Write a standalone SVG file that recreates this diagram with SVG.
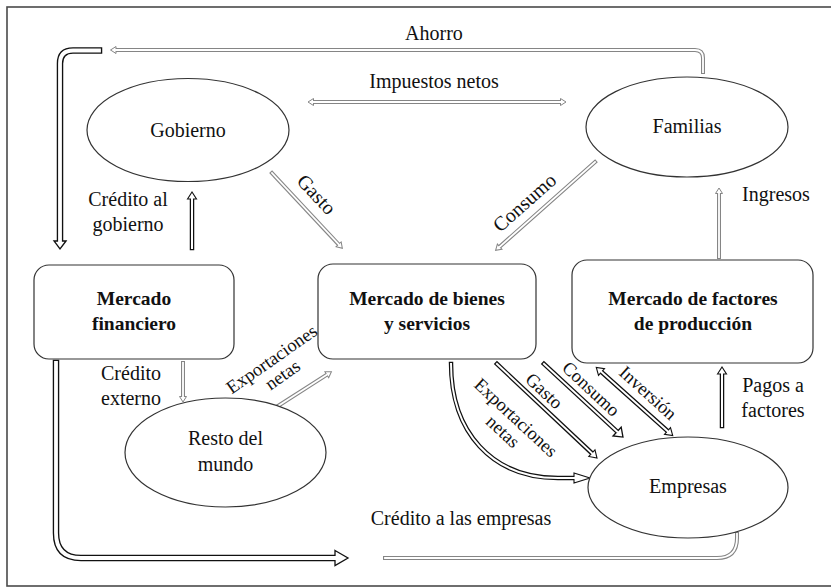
<svg xmlns="http://www.w3.org/2000/svg" width="831" height="588" viewBox="0 0 831 588" font-family="'Liberation Serif', 'DejaVu Serif', serif">
<style>
text{font-family:'Liberation Serif','DejaVu Serif',serif;fill:#111;}
.t{font-size:20px;text-anchor:middle;}
.s{font-size:18.5px;text-anchor:middle;}
.b{font-size:19.5px;font-weight:bold;text-anchor:middle;}
.node{fill:#fff;stroke:#333;stroke-width:1.2;}
.gO{fill:none;stroke:#858585;stroke-width:4;stroke-linecap:square;}
.gI{fill:none;stroke:#fff;stroke-width:1.8;stroke-linecap:square;}
.bO{fill:none;stroke:#111;stroke-width:6.5;stroke-linecap:square;}
.bI{fill:none;stroke:#fff;stroke-width:3.8;stroke-linecap:square;}
.kO{fill:none;stroke:#111;stroke-width:4.5;stroke-linecap:square;}
.kI{fill:none;stroke:#fff;stroke-width:2;stroke-linecap:square;}
</style>
<defs>
<marker id="mg" markerUnits="userSpaceOnUse" orient="auto-start-reverse" markerWidth="10" markerHeight="10" refX="0" refY="0" overflow="visible"><path d="M0,-3.5 L5.5,0 L0,3.5 Z" fill="#fff" stroke="#858585" stroke-width="1"/></marker>
<marker id="mbL" markerUnits="userSpaceOnUse" orient="auto" markerWidth="10" markerHeight="10" refX="0" refY="0" overflow="visible"><path d="M0,-6 L8,0 L0,6 Z" fill="#fff" stroke="#111" stroke-width="1.3"/></marker>
<marker id="mbB" markerUnits="userSpaceOnUse" orient="auto" markerWidth="10" markerHeight="10" refX="0" refY="0" overflow="visible"><path d="M0,-7.5 L13,0 L0,7.5 Z" fill="#fff" stroke="#111" stroke-width="1.3"/></marker>
<marker id="mt" markerUnits="userSpaceOnUse" orient="auto-start-reverse" markerWidth="10" markerHeight="10" refX="0" refY="0" overflow="visible"><path d="M0,-4.5 L7,0 L0,4.5 Z" fill="#fff" stroke="#111" stroke-width="1.1"/></marker>
<marker id="mtl" markerUnits="userSpaceOnUse" orient="auto" markerWidth="10" markerHeight="10" refX="0" refY="0" overflow="visible"><path d="M0,-5 L16,0 L0,5 Z" fill="#fff" stroke="#111" stroke-width="1.1"/></marker>
</defs>
<rect x="0" y="0" width="831" height="588" fill="#fff"/>
<rect x="7" y="7" width="840" height="579" fill="none" stroke="#4a4a4a" stroke-width="1.6"/>

<g id="connectors">
<path class="gO" d="M703,72 V58 Q703,50 695,50 H116" marker-end="url(#mg)"/>
<path class="gI" d="M703,72 V58 Q703,50 695,50 H116"/>
<path class="gO" d="M313.5,102 H560.5" marker-start="url(#mg)" marker-end="url(#mg)"/>
<path class="gI" d="M313.5,102 H560.5"/>
<path class="bO" d="M99,50.5 H73 Q60,50.5 60,63.5 V241" marker-end="url(#mbL)"/>
<path class="bI" d="M99,50.5 H73 Q60,50.5 60,63.5 V241"/>
<path class="kO" d="M192,248 V199" marker-end="url(#mt)"/>
<path class="kI" d="M192,248 V199"/>
<path class="gO" d="M272,173 L338.6,244.3" marker-end="url(#mg)"/>
<path class="gI" d="M272,173 L338.6,244.3"/>
<path class="gO" d="M595,162 L499.7,246.7" marker-end="url(#mg)"/>
<path class="gI" d="M595,162 L499.7,246.7"/>
<path class="gO" d="M719,257 V193.5" marker-end="url(#mg)"/>
<path class="gI" d="M719,257 V193.5"/>
<path class="gO" d="M183,363 V396.5" marker-end="url(#mg)"/>
<path class="gI" d="M183,363 V396.5"/>
<path class="gO" d="M278,406 L326.8,374.7" marker-end="url(#mg)"/>
<path class="gI" d="M278,406 L326.8,374.7"/>
<path class="bO" d="M56,363 V533 Q56,558 81,558 H335" marker-end="url(#mbB)"/>
<path class="bI" d="M56,363 V533 Q56,558 81,558 H335"/>
<path class="gO" d="M385,558 H717 Q737,558 737,538 V534"/>
<path class="gI" d="M385,558 H717 Q737,558 737,538 V534"/>
<path class="kO" d="M451,364 C451,432 492,478 558,478 H574" marker-end="url(#mtl)"/>
<path class="kI" d="M451,364 C451,432 492,478 558,478 H574"/>
<path class="kO" d="M497,364 L591.9,453.2" marker-end="url(#mt)"/>
<path class="kI" d="M497,364 L591.9,453.2"/>
<path class="kO" d="M544,364 L617.1,431.6" marker-end="url(#mbL)"/>
<path class="kI" d="M544,364 L617.1,431.6"/>
<path class="kO" d="M601.5,372 L667.5,431" marker-start="url(#mt)" marker-end="url(#mt)"/>
<path class="kI" d="M601.5,372 L667.5,431"/>
<path class="kO" d="M722,426 V374" marker-end="url(#mt)"/>
<path class="kI" d="M722,426 V374"/>
</g>

<g id="gobierno"><ellipse class="node" cx="188" cy="130" rx="101" ry="51.5"/><text class="t" x="188" y="137">Gobierno</text></g>
<g id="familias"><ellipse class="node" cx="687" cy="127" rx="101" ry="50"/><text class="t" x="687" y="133">Familias</text></g>
<g id="mercado-financiero"><rect class="node" x="34" y="265" width="200" height="94" rx="15"/><text class="b" x="134" y="305">Mercado</text><text class="b" x="134" y="330">financiero</text></g>
<g id="mercado-bienes"><rect class="node" x="318" y="264" width="218" height="95" rx="15"/><text class="b" x="427" y="305">Mercado de bienes</text><text class="b" x="427" y="330">y servicios</text></g>
<g id="mercado-factores"><rect class="node" x="572" y="260" width="241" height="103" rx="15"/><text class="b" x="693" y="305">Mercado de factores</text><text class="b" x="693" y="330">de producción</text></g>
<g id="resto-mundo"><ellipse class="node" cx="225.5" cy="452.5" rx="100.5" ry="54.5"/><text class="t" x="225.5" y="445">Resto del</text><text class="t" x="225.5" y="471">mundo</text></g>
<g id="empresas"><ellipse class="node" cx="688" cy="487.5" rx="100" ry="50.5"/><text class="t" x="688" y="493">Empresas</text></g>

<g id="labels">
<text class="t" x="434" y="40">Ahorro</text>
<text class="t" x="434" y="88">Impuestos netos</text>
<text class="t" x="128" y="206">Crédito al</text>
<text class="t" x="128" y="231">gobierno</text>
<text class="t" x="776" y="201">Ingresos</text>
<text class="t" x="131" y="380">Crédito</text>
<text class="t" x="131" y="405">externo</text>
<text class="t" x="773" y="392">Pagos a</text>
<text class="t" x="773" y="417">factores</text>
<text class="t" x="461" y="525">Crédito a las empresas</text>
<text class="t" transform="translate(316,195) rotate(47)" x="0" y="6">Gasto</text>
<text class="t" transform="translate(525,203) rotate(-41.6)" x="0" y="6">Consumo</text>
<g transform="translate(277.5,367.5) rotate(-35)"><text class="s" x="0" y="-4">Exportaciones</text><text class="s" x="0" y="15">netas</text></g>
<g transform="translate(509,425) rotate(43)"><text class="s" x="0" y="-4">Exportaciones</text><text class="s" x="0" y="15">netas</text></g>
<text class="s" transform="translate(544,391) rotate(43)" x="0" y="6">Gasto</text>
<text class="s" transform="translate(591,389) rotate(43)" x="0" y="6">Consumo</text>
<text class="s" transform="translate(648,393) rotate(42)" x="0" y="6">Inversión</text>
</g>
</svg>
